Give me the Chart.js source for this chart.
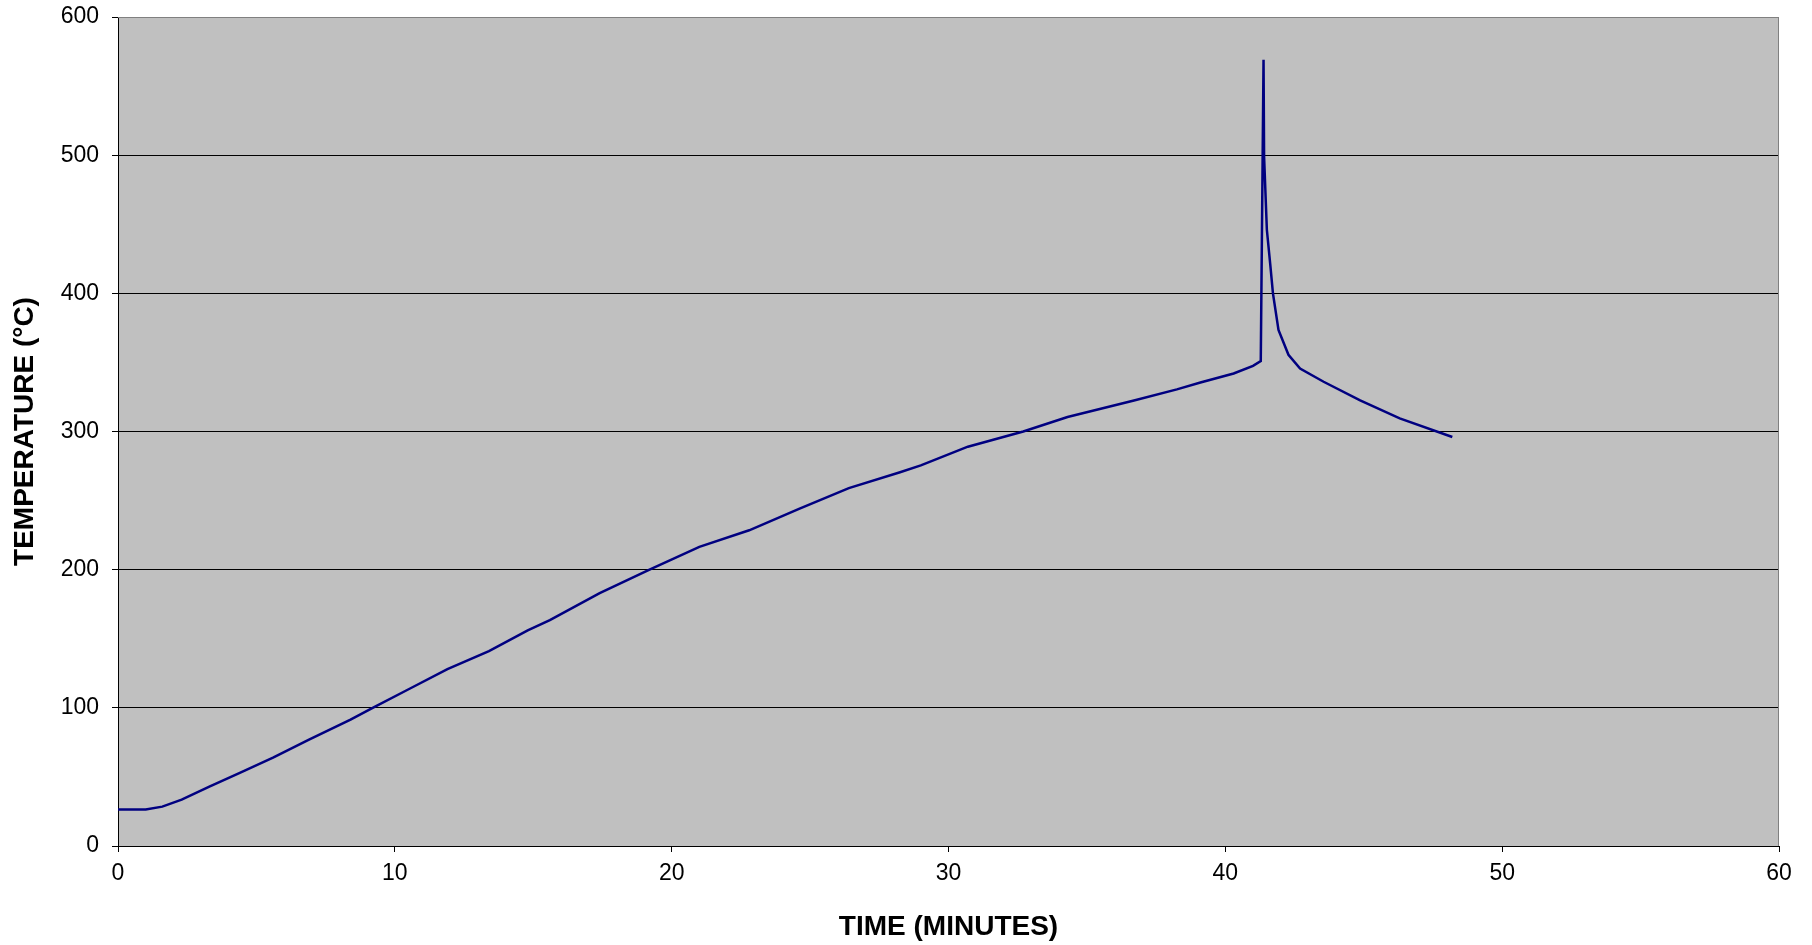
<!DOCTYPE html>
<html>
<head>
<meta charset="utf-8">
<title>Temperature vs time</title>
<script src="https://cdn.jsdelivr.net/npm/chart.js@4/dist/chart.umd.min.js"></script>
<style>
    body { margin: 0; background: #ffffff; }
    #chart_shell { width: 1812px; height: 945px; }
</style>
</head>
<body>
<div id="chart_shell"><canvas id="temp_chart"></canvas></div>
<script>
/** Data */
let timeMinutes = [0, 1.0, 1.6, 2.3, 3.3, 4.4, 5.6, 6.9, 8.4, 9.2, 10.55, 11.9, 13.4, 14.8,
    15.6, 17.4, 19.2, 21.0, 22.8, 24.6, 26.4, 28.25, 29.0, 30.7, 32.7, 34.3, 36.7, 38.25,
    39.1, 40.3, 41.0, 41.28, 41.38, 41.40, 41.5, 41.62, 41.72, 41.92, 42.28, 42.7, 43.55,
    44.87, 46.3, 48.2];
let temperatureC = [26.5, 26.5, 28.5, 33.5, 43, 53, 64, 77, 91.5, 100, 114, 128, 141, 156,
    163.5, 183, 200, 216.5, 228.5, 244, 259, 270.5, 275.5, 289, 300, 310.5, 322.5, 330.5,
    335.5, 342, 347.5, 351, 569, 499, 446, 421.5, 400, 373.5, 355.5, 345.5, 336,
    322.5, 309.5, 296];
let xTicks = { min: 0, max: 60, step: 10 };
let yTicks = { min: 0, max: 600, step: 100 };
let xTitle = 'TIME (MINUTES)';
let yTitle = 'TEMPERATURE (°C)';

let points = [];
for (let i = 0; i < timeMinutes.length; i++) {
    points.push({ x: timeMinutes[i], y: temperatureC[i] });
}

// grey plot area with grey top/right frame
let plotFrame = {
    id: 'plotFrame',
    beforeDraw: function (chart) {
        const { ctx, chartArea } = chart;
        ctx.save();
        ctx.fillStyle = '#c0c0c0';
        ctx.fillRect(chartArea.left, chartArea.top, chartArea.right - chartArea.left, chartArea.bottom - chartArea.top);
        ctx.restore();
    },
    beforeDatasetsDraw: function (chart) {
        const { ctx, chartArea } = chart;
        ctx.save();
        ctx.strokeStyle = '#808080';
        ctx.lineWidth = 1;
        ctx.beginPath();
        ctx.moveTo(chartArea.left, chartArea.top + 0.5);
        ctx.lineTo(chartArea.right - 0.5, chartArea.top + 0.5);
        ctx.lineTo(chartArea.right - 0.5, chartArea.bottom);
        ctx.stroke();
        ctx.restore();
    }
};

let fontFamily = "'Liberation Sans', Arial, sans-serif";
let xTickFont = { family: fontFamily, size: 23 };
// small lineHeight so the top label does not push the plot area down
let yTickFont = { family: fontFamily, size: 23, lineHeight: 0.3 };
let titleFont = { family: fontFamily, size: 28, weight: 'bold' };

new Chart(document.getElementById('temp_chart').getContext('2d'), {
    type: 'line',
    data: {
        datasets: [{
            data: points,
            borderColor: '#000080',
            borderWidth: 2.5,
            pointRadius: 0,
            tension: 0,
            fill: false
        }]
    },
    options: {
        responsive: true,
        maintainAspectRatio: false,
        animation: false,
        events: [],
        layout: { padding: { top: 17, right: 33, bottom: 0, left: 0 } },
        plugins: {
            legend: { display: false },
            tooltip: { enabled: false }
        },
        scales: {
            x: {
                type: 'linear',
                min: xTicks.min,
                max: xTicks.max,
                afterFit: function (scale) { scale.height = 99; },
                ticks: { stepSize: xTicks.step, color: '#000', font: xTickFont, padding: 8, maxRotation: 0 },
                grid: { drawOnChartArea: false, drawTicks: true, tickLength: 6, color: '#000', tickColor: '#000' },
                border: { color: '#000', width: 1 },
                title: { display: true, text: xTitle, color: '#000', font: titleFont, padding: { top: 0, bottom: 1 } }
            },
            y: {
                type: 'linear',
                min: yTicks.min,
                max: yTicks.max,
                afterFit: function (scale) { scale.width = 118; },
                ticks: { stepSize: yTicks.step, color: '#000', font: yTickFont, padding: 13 },
                grid: {
                    color: function (ctx) {
                        return ctx.tick && ctx.tick.value === yTicks.max ? '#808080' : '#000';
                    },
                    tickColor: '#000',
                    tickLength: 6,
                    lineWidth: 1
                },
                border: { color: '#000', width: 1 },
                title: { display: true, text: yTitle, color: '#000', font: titleFont, padding: { top: 8, bottom: 0 } }
            }
        }
    },
    plugins: [plotFrame]
});
</script>
</body>
</html>
